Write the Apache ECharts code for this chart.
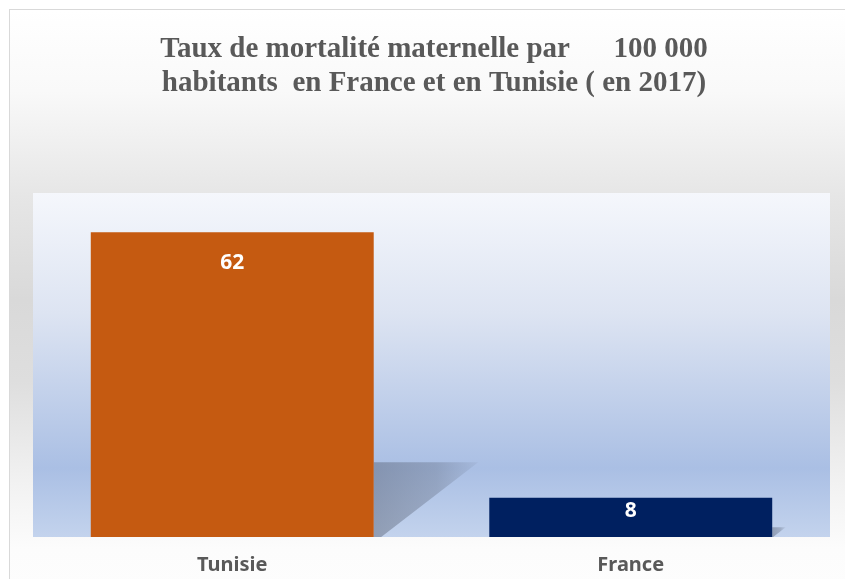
<!DOCTYPE html>
<html>
<head>
<meta charset="utf-8">
<script src="https://cdn.jsdelivr.net/npm/echarts@6/dist/echarts.min.js"></script>
<style>
html, body { margin: 0; padding: 0; background: #fff; }
.frame {
    position: absolute;
    left: 9px;
    top: 9px;
    width: 900px;
    height: 580px;
    border: 1.5px solid #d9d9d9;
    background: linear-gradient(to bottom, #ffffff 0%, #f9f9f9 14%, #e6e6e6 32%, #d9d9d9 50%, #dedede 64%, #f2f2f2 82%, #fcfcfc 93%, #fdfdfd 100%);
}
#chart { position: absolute; left: 0; top: 0; width: 845px; height: 579px; }
</style>
</head>
<body>
<div class="frame"></div>
<div id="chart"></div>
<script>
const categories = ['Tunisie', 'France']
const values = [62, 8]
const barColors = ['#C55A11', '#002060']
const labelGaps = [20, 3]

const chart = echarts.init(document.getElementById('chart'))

const option = {
    backgroundColor: 'transparent',
    title: {
        text: 'Taux de mortalité maternelle par      100 000\nhabitants  en France et en Tunisie ( en 2017)',
        left: 429,
        top: 28,
        textAlign: 'center',
        textStyle: {
            fontFamily: 'Liberation Serif',
            fontWeight: 'bold',
            fontSize: 29,
            lineHeight: 34,
            color: '#595959'
        }
    },
    grid: {
        left: 33,
        right: 15,
        top: 193,
        bottom: 42
    },
    xAxis: {
        type: 'category',
        data: categories,
        axisLine: {show: false},
        axisTick: {show: false},
        axisLabel: {
            margin: 18,
            fontFamily: 'Noto Sans',
            fontWeight: 'bold',
            fontSize: 20,
            color: '#595959'
        }
    },
    yAxis: {
        type: 'value',
        min: 0,
        max: 70,
        show: false,
        splitLine: {show: false}
    },
    series: [
        {
            // ombre portée en perspective derrière les barres
            type: 'custom',
            z: 1,
            silent: true,
            data: values.map((v, i) => [i, v]),
            renderItem: function (params, api) {
                const top = api.coord([api.value(0), api.value(1)])
                const base = api.coord([api.value(0), 0])
                const bw = api.size([1, 0])[0] * 0.71
                const right = base[0] + bw / 2
                const h = (base[1] - top[1]) * 0.245
                return {
                    type: 'polygon',
                    shape: {
                        points: [
                            [right, base[1]],
                            [right, base[1] - h],
                            [right + h * 1.4, base[1] - h],
                            [right + h * 0.1, base[1]]
                        ]
                    },
                    style: {
                        fill: new echarts.graphic.LinearGradient(0, 0, 1, 0, [
                            {offset: 0, color: 'rgba(95,105,125,0.5)'},
                            {offset: 0.6, color: 'rgba(95,105,125,0.35)'},
                            {offset: 1, color: 'rgba(95,105,125,0.08)'}
                        ])
                    }
                }
            }
        },
        {
            type: 'bar',
            z: 2,
            barWidth: '71%',
            data: values.map((v, i) => ({
                value: v,
                itemStyle: {color: barColors[i]},
                label: {distance: labelGaps[i]}
            })),
            label: {
                show: true,
                position: 'insideTop',
                fontFamily: 'Noto Sans',
                fontWeight: 'bold',
                fontSize: 21,
                color: '#ffffff'
            }
        }
    ]
}

// fond dégradé de la zone de tracé
option.grid.show = true
option.grid.borderWidth = 0
option.grid.backgroundColor = new echarts.graphic.LinearGradient(0, 0, 0, 1, [
    {offset: 0, color: '#f5f7fc'},
    {offset: 0.35, color: '#dde4f2'},
    {offset: 0.8, color: '#aabfe4'},
    {offset: 1, color: '#c3d3ed'}
])

chart.setOption(option)
</script>
</body>
</html>
